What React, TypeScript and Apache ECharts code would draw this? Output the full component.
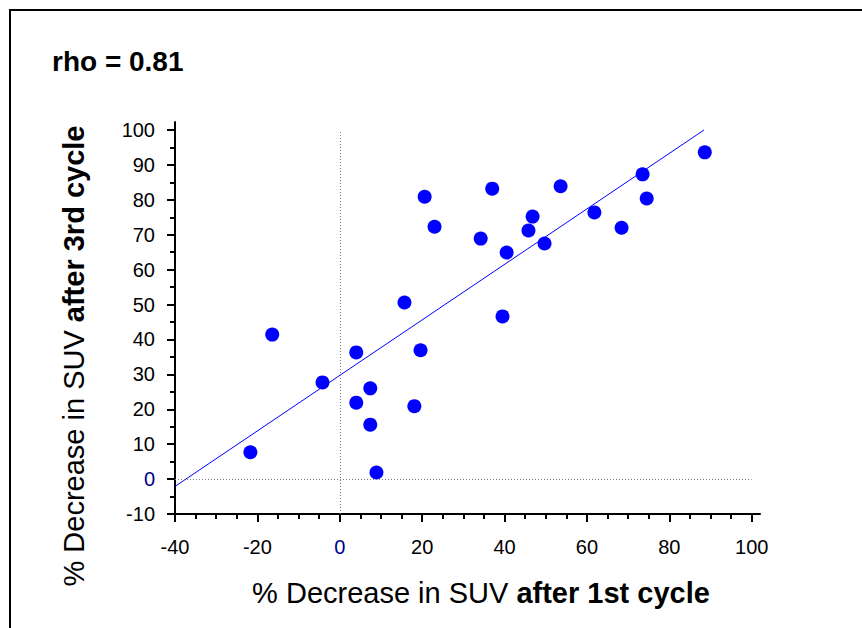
import React, { useEffect, useRef } from "react";
import * as echarts from "echarts";

// % decrease in SUV after 1st cycle (x) and after 3rd cycle (y)
const cycle1 = [4.0, 7.4, 4.0, 7.4, 8.9, 15.7, 19.6, 18.1, 20.6, 23.0, 34.2, 37.0, 39.5, 40.5, 45.8, 46.8, 49.7, 53.6, 61.8, 68.4, 73.5, 74.5, 88.6, -16.4, -21.7, -4.2];
const cycle3 = [36.3, 26.0, 21.9, 15.6, 1.9, 50.6, 36.9, 20.9, 80.9, 72.3, 68.9, 83.2, 46.6, 64.9, 71.2, 75.2, 67.5, 83.9, 76.4, 72.0, 87.3, 80.4, 93.6, 41.4, 7.7, 27.7];

// regression line end points
const fitX = [-40, 88.4];
const fitY = [-2.1, 100];

// tick values
const xMajorTicks = [-40, -20, 0, 20, 40, 60, 80, 100];
const xMinorTicks = [-40, -35, -30, -25, -20, -15, -10, -5, 0, 5, 10, 15, 20, 25, 30, 35, 40, 45, 50, 55, 60, 65, 70, 75, 80, 85, 90, 95, 100];
const yMajorTicks = [-10, 0, 10, 20, 30, 40, 50, 60, 70, 80, 90, 100];
const yMinorTicks = [-10, -5, 0, 5, 10, 15, 20, 25, 30, 35, 40, 45, 50, 55, 60, 65, 70, 75, 80, 85, 90, 95, 100];

const titleText = "rho = 0.81";
const xTitleNormal = "% Decrease in SUV ";
const xTitleBold = "after 1st cycle";
const yTitleNormal = "% Decrease in SUV ";
const yTitleBold = "after 3rd cycle";

const FONT = '"Liberation Sans", Arial, sans-serif';

export default function App() {
  const ref = useRef<HTMLDivElement>(null);
  useEffect(() => {
    document.body.style.margin = "0";
    const chart = echarts.init(ref.current!, null, { renderer: "svg" });
    const labelColor = (v: any) => (Number(v) === 0 ? "#00008b" : "#000");
    const tickStyle = { color: "#000", width: 2 };
    const points = cycle1.map((x, i) => [x, cycle3[i]]);
    const fit = fitX.map((x, i) => [x, fitY[i]]);
    const richStyles = {
      n: { fontSize: 29, fontFamily: FONT, fontWeight: "normal", fill: "#000", color: "#000" },
      b: { fontSize: 29, fontFamily: FONT, fontWeight: "bold", fill: "#000", color: "#000" },
    };
    chart.setOption({
      animation: false,
      backgroundColor: "#fff",
      grid: { left: 175, top: 122, width: 585, height: 392, containLabel: false },
      xAxis: [
        {
          type: "value", min: -40, max: 102, position: "bottom",
          axisLine: { show: true, onZero: false, lineStyle: { color: "#000", width: 2 } },
          axisTick: { show: true, length: 8, lineStyle: tickStyle, customValues: xMajorTicks },
          axisLabel: { customValues: xMajorTicks, fontSize: 20, fontFamily: FONT, color: labelColor, margin: 23 },
          splitLine: { show: false },
        },
        {
          type: "value", min: -40, max: 102, position: "bottom",
          axisLine: { show: false, onZero: false },
          axisTick: { show: true, length: 5, lineStyle: tickStyle, customValues: xMinorTicks },
          axisLabel: { show: false },
          splitLine: { show: false },
        },
      ],
      yAxis: [
        {
          type: "value", min: -10, max: 102.3, position: "left",
          axisLine: { show: true, onZero: false, lineStyle: { color: "#000", width: 2 } },
          axisTick: { show: true, length: 8, lineStyle: tickStyle, customValues: yMajorTicks },
          axisLabel: { customValues: yMajorTicks, fontSize: 20, fontFamily: FONT, color: labelColor, margin: 20 },
          splitLine: { show: false },
        },
        {
          type: "value", min: -10, max: 102.3, position: "left",
          axisLine: { show: false, onZero: false },
          axisTick: { show: true, length: 5, lineStyle: tickStyle, customValues: yMinorTicks },
          axisLabel: { show: false },
          splitLine: { show: false },
        },
      ],
      series: [
        {
          type: "line",
          data: fit,
          showSymbol: false,
          symbol: "none",
          lineStyle: { color: "#0000ff", width: 1 },
          z: 2,
          markLine: {
            silent: true,
            symbol: "none",
            label: { show: false },
            lineStyle: { color: "#808080", width: 1, type: [1, 2] },
            data: [
              [{ coord: [0, -10] }, { coord: [0, 100] }],
              [{ coord: [-40, 0] }, { coord: [100, 0] }],
            ],
          },
        },
        {
          type: "scatter",
          data: points,
          symbol: "circle",
          symbolSize: 14,
          itemStyle: { color: "#0000ff", opacity: 1 },
          z: 3,
        },
      ],
      graphic: [
        {
          type: "rect",
          shape: { x: 10, y: 10, width: 900, height: 700 },
          style: { fill: "none", stroke: "#000", lineWidth: 2 },
        },
        {
          type: "text",
          x: 52, y: 61,
          style: {
            text: titleText, fill: "#000",
            font: `bold 28px ${FONT}`,
            textAlign: "left", align: "left",
            textVerticalAlign: "middle", verticalAlign: "middle",
          },
        },
        {
          type: "text",
          x: 481, y: 593,
          style: {
            text: `{n|${xTitleNormal}}{b|${xTitleBold}}`,
            fill: "#000",
            textAlign: "center", align: "center",
            textVerticalAlign: "middle", verticalAlign: "middle",
            rich: richStyles,
          },
        },
        {
          type: "text",
          x: 74, y: 356,
          rotation: Math.PI / 2,
          style: {
            text: `{n|${yTitleNormal}}{b|${yTitleBold}}`,
            fill: "#000",
            textAlign: "center", align: "center",
            textVerticalAlign: "middle", verticalAlign: "middle",
            rich: richStyles,
          },
        },
      ],
    });
    return () => chart.dispose();
  }, []);
  return <div ref={ref} style={{ width: 862, height: 628 }} />;
}
